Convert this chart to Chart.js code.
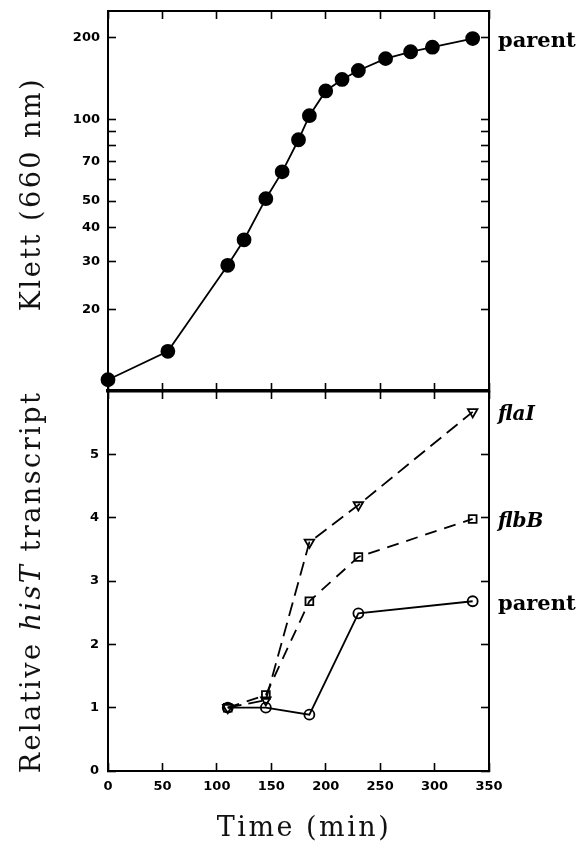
<!DOCTYPE html>
<html lang="en">
<head>
<meta charset="UTF-8">
<title>Klett and relative hisT transcript vs time</title>
<script src="https://cdn.jsdelivr.net/npm/chart.js"></script>
<style>
  body { margin: 0; background: #fff; }
  #page { position: relative; width: 582px; height: 841px; overflow: hidden; }
  canvas { position: absolute; left: 0; }
  #klettChart { top: 0; }
  #histChart { top: 380px; }
  .atitle {
    position: absolute; white-space: nowrap; color: #111;
    font-family: "DejaVu Serif", serif; font-size: 27px; letter-spacing: 2.5px;
    transform: translate(-50%, -50%);
  }
  .rot { transform: translate(-50%, -50%) rotate(-90deg); }
</style>
</head>
<body>
<div id="page">
  <canvas id="klettChart" width="582" height="400"></canvas>
  <canvas id="histChart" width="582" height="461"></canvas>
  <div class="atitle rot" style="left:30px; top:194px;">Klett (660 nm)</div>
  <div class="atitle rot" style="left:30px; top:582px;">Relative <i>hisT</i> transcript</div>
  <div class="atitle" style="left:304px; top:826px;">Time (min)</div>
</div>
<script>
// top panel: growth of the parent strain
const growthTimes = [0, 55, 110, 125, 145, 160, 175, 185, 200, 215, 230, 255, 278, 298, 335];
const growthKlett = [11, 14, 29, 36, 51, 64, 84, 103, 127, 140, 151, 167, 177, 184, 198];

// bottom panel: relative hisT transcript
const histTimes = [110, 145, 185, 230, 335];
const parentRel = [1.0, 1.0, 0.89, 2.49, 2.68];
const flbBRel = [1.0, 1.2, 2.68, 3.38, 3.98];
const flaIRel = [1.0, 1.12, 3.61, 4.2, 5.67];

// ticks
const timeTicks = [0, 50, 100, 150, 200, 250, 300, 350];
const klettTicks = [20, 30, 40, 50, 60, 70, 80, 90, 100, 200];
const klettLabeled = [20, 30, 40, 50, 70, 100, 200];
const relTicks = [0, 1, 2, 3, 4, 5];

const toPoints = (xs, ys) => xs.map((x, i) => ({ x: x, y: ys[i] }));
const tickFont = { family: 'DejaVu Sans', size: 13, weight: 'bold' };

// ticks pointing into the plot
const inGrid = { drawOnChartArea: false, drawTicks: true, tickLength: -8, tickWidth: 1.6, tickColor: '#000' };
const edge = (w) => ({ display: true, color: '#000', width: w });
const setTicks = (vals) => (s) => { s.ticks = vals.map(v => ({ value: v })); };

// fixed axis box, no extra label padding so the plot frame lands where it should
const fixSize = (key, n) => (s) => {
  s[key] = n;
  s.paddingTop = 0; s.paddingBottom = 0; s.paddingLeft = 0; s.paddingRight = 0;
};

// series name written at the right, level with its last point
const endLabels = {
  id: 'endLabels',
  afterDatasetsDraw(chart) {
    const ctx = chart.ctx;
    chart.data.datasets.forEach((ds, i) => {
      const pts = chart.getDatasetMeta(i).data;
      const last = pts[pts.length - 1];
      ctx.save();
      ctx.font = ds.endFont;
      ctx.fillStyle = '#000';
      ctx.textBaseline = 'middle';
      ctx.fillText(ds.label, chart.chartArea.right + 9, last.y + 3);
      ctx.restore();
    });
  }
};

function timeAxis(pos, h, bw, labels) {
  return {
    type: 'linear', position: pos, min: 0, max: 350,
    afterBuildTicks: setTicks(timeTicks),
    ticks: { display: labels, font: tickFont, color: '#000', padding: 16 },
    grid: inGrid, border: edge(bw),
    afterFit: fixSize('height', h)
  };
}

new Chart(document.getElementById('klettChart'), {
  type: 'line',
  data: {
    datasets: [{
      label: 'parent',
      endFont: 'bold 21px "DejaVu Serif"',
      data: toPoints(growthTimes, growthKlett),
      borderColor: '#000', borderWidth: 1.8,
      pointStyle: 'circle', pointRadius: 6.5,
      pointBackgroundColor: '#000', pointBorderColor: '#000',
      tension: 0, clip: false
    }]
  },
  options: {
    responsive: false, animation: false,
    layout: { padding: 0 },
    plugins: { legend: { display: false }, tooltip: { enabled: false } },
    scales: {
      x: timeAxis('bottom', 9, 3.5, false),
      xTop: timeAxis('top', 11, 2, false),
      y: {
        type: 'logarithmic', position: 'left', min: 10, max: 250,
        afterBuildTicks: setTicks(klettTicks),
        ticks: {
          font: tickFont, color: '#000', padding: 16,
          callback: (v) => klettLabeled.includes(v) ? String(v) : ''
        },
        grid: inGrid, border: edge(2),
        afterFit: fixSize('width', 108)
      },
      yRight: {
        type: 'logarithmic', position: 'right', min: 10, max: 250,
        afterBuildTicks: setTicks(klettTicks),
        ticks: { display: false },
        grid: inGrid, border: edge(2),
        afterFit: fixSize('width', 93)
      }
    }
  },
  plugins: [endLabels]
});

function relSeries(name, font, ys, style, rot, rad, dash) {
  return {
    label: name, endFont: font,
    data: toPoints(histTimes, ys),
    borderColor: '#000', borderWidth: 1.8, borderDash: dash,
    pointStyle: style, pointRotation: rot, pointRadius: rad, pointBorderWidth: 1.8,
    pointBackgroundColor: 'rgba(0,0,0,0)', pointBorderColor: '#000',
    tension: 0, clip: false
  };
}

new Chart(document.getElementById('histChart'), {
  type: 'line',
  data: {
    datasets: [
      relSeries('parent', 'bold 21px "DejaVu Serif"', parentRel, 'circle', 0, 5, []),
      relSeries('flbB', 'italic bold 20px "DejaVu Serif"', flbBRel, 'rect', 0, 5.5, [12, 8]),
      relSeries('flaI', 'italic bold 20px "DejaVu Serif"', flaIRel, 'triangle', 180, 5.5, [14, 7])
    ]
  },
  options: {
    responsive: false, animation: false,
    layout: { padding: 0 },
    plugins: { legend: { display: false }, tooltip: { enabled: false } },
    scales: {
      x: timeAxis('bottom', 70, 2, true),
      xTop: timeAxis('top', 11, 0, false),
      y: {
        type: 'linear', position: 'left', min: 0, max: 6,
        afterBuildTicks: setTicks(relTicks),
        ticks: { font: tickFont, color: '#000', padding: 17 },
        grid: inGrid, border: edge(2),
        afterFit: fixSize('width', 108)
      },
      yRight: {
        type: 'linear', position: 'right', min: 0, max: 6,
        afterBuildTicks: setTicks(relTicks),
        ticks: { display: false },
        grid: inGrid, border: edge(2),
        afterFit: fixSize('width', 93)
      }
    }
  },
  plugins: [endLabels]
});
</script>
</body>
</html>
